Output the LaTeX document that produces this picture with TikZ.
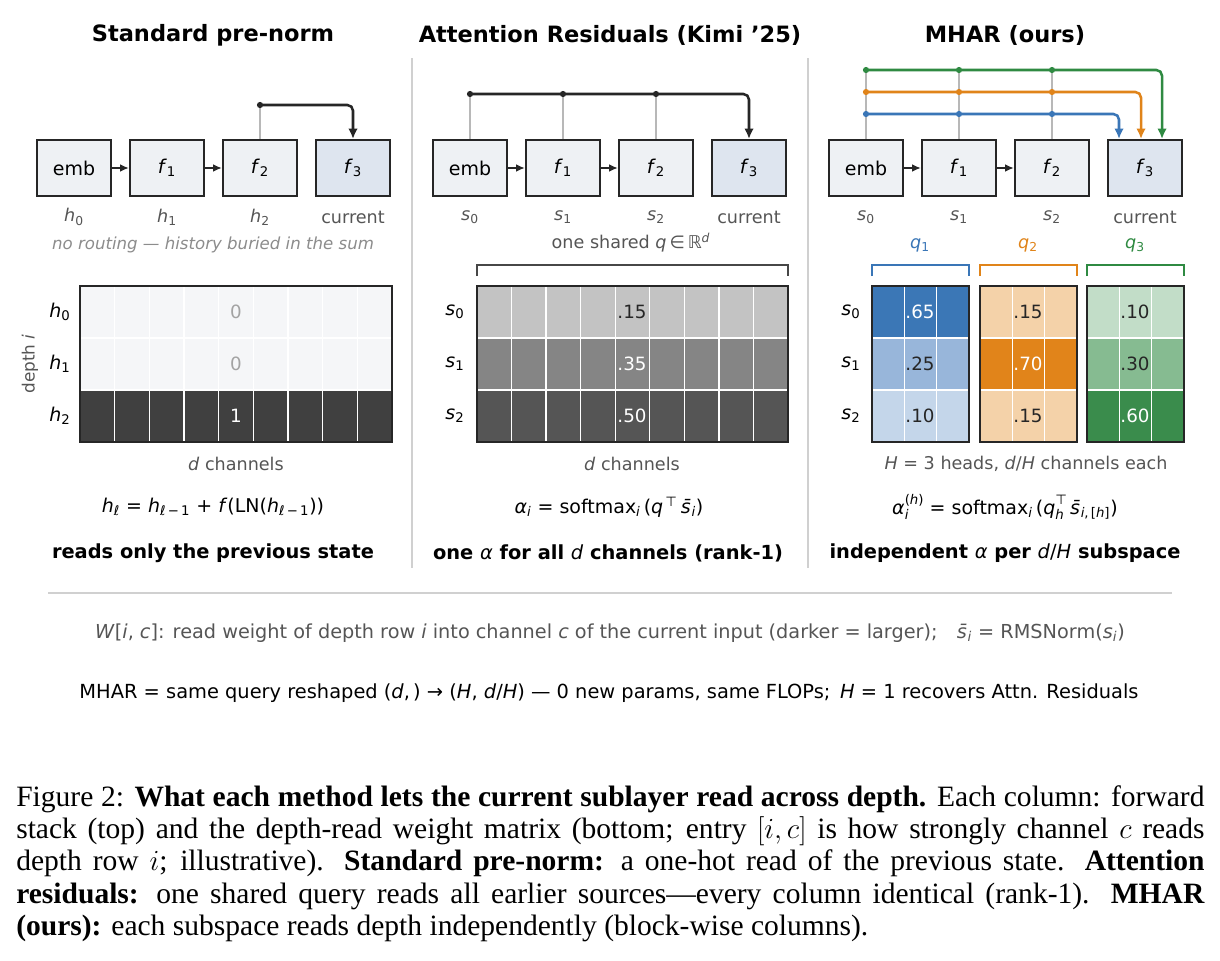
\documentclass[tikz,border=0pt]{standalone}
\usepackage{fontspec}
\setmainfont{DejaVu Sans}
\newfontfamily\capfont{Liberation Serif}
\usetikzlibrary{arrows.meta,positioning}

\definecolor{boxfill}{HTML}{EEF1F4}
\definecolor{curfill}{HTML}{DEE5EF}
\definecolor{ink}{HTML}{262626}
\definecolor{lbl}{HTML}{555555}
\definecolor{faint}{HTML}{8C8C8C}
\definecolor{tapgray}{HTML}{B8B8B8}
\definecolor{rulegray}{HTML}{D0D0D0}
\definecolor{hblue}{HTML}{3A76B7}
\definecolor{horange}{HTML}{E0841A}
\definecolor{hgreen}{HTML}{2F8A42}
\definecolor{pale}{HTML}{F5F6F8}
\definecolor{darkrow}{HTML}{404040}
\definecolor{gA}{HTML}{C3C3C3}
\definecolor{gB}{HTML}{858585}
\definecolor{gC}{HTML}{555555}
\definecolor{hbA}{HTML}{3B77B6}
\definecolor{hbB}{HTML}{98B6DA}
\definecolor{hbC}{HTML}{C4D6EA}
\definecolor{hoA}{HTML}{F4D2A9}
\definecolor{hoB}{HTML}{E1841A}
\definecolor{hgA}{HTML}{C2DDC8}
\definecolor{hgB}{HTML}{86BB91}
\definecolor{hgC}{HTML}{3A8C4C}

% italic symbol with a subscript
\newcommand{\lo}[2]{\textit{#1}\textsubscript{#2}}
\newcommand{\sbar}{\textit{s̄}}
% stacked superscript over subscript
\newcommand{\hilo}[2]{\rlap{\raisebox{-0.55ex}{\fontsize{9.5}{10}\selectfont #2}}\raisebox{0.95ex}{\fontsize{9.5}{10}\selectfont #1}}

\begin{document}
\begin{tikzpicture}[x=0.025cm, y=-0.025cm,
  box/.style={draw=ink, line width=1.5pt, fill=boxfill, minimum width=1.85cm, minimum height=1.4cm, inner sep=0pt, font=\fontsize{13.5}{16}\selectfont},
  cur/.style={box, fill=curfill},
  fwd/.style={draw=ink, line width=1.2pt, -{Latex[length=2.2mm,width=1.9mm]}},
  tap/.style={draw=tapgray, line width=0.9pt},
  route/.style={draw=ink, line width=1.8pt, rounded corners=4pt, -{Latex[length=2.6mm,width=2.4mm]}},
  title/.style={font=\bfseries\fontsize{16}{19}\selectfont},
  sub/.style={text=lbl, font=\fontsize{12.5}{15}\selectfont},
  rowlbl/.style={font=\fontsize{13.5}{16}\selectfont},
  val/.style={font=\fontsize{13}{15}\selectfont},
  formula/.style={font=\fontsize{13.5}{16}\selectfont},
  verdict/.style={font=\bfseries\fontsize{13.8}{16}\selectfont},
  cell/.style={draw=white, line width=0.9pt},
  frame/.style={draw=ink, line width=1.4pt}]

\useasboundingbox[fill=white] (0,0) rectangle (1220,960);

% separators
\draw[rulegray, line width=1pt] (412,58) -- (412,568);
\draw[rulegray, line width=1pt] (808,58) -- (808,568);
\draw[rulegray, line width=1.3pt] (48,593) -- (1172,593);

%%%%% Standard pre-norm
\node[title] (tA) at (213,35) {Standard pre-norm};
\node[box] (embA) at (74,168) {emb};
\node[box] (f1A) at (167,168) {\lo{f}{1}};
\node[box] (f2A) at (260,168) {\lo{f}{2}};
\node[cur] (f3A) at (353,168) {\lo{f}{3}};
\draw[fwd] (embA) -- (f1A);
\draw[fwd] (f1A) -- (f2A);
\coordinate (tapA) at (260,105);
\draw[tap] (f2A.north) -- (tapA);
\draw[route] (tapA) -| (f3A.north);
\fill[ink] (tapA) circle (2.2pt);
\node[sub] (hA0) at (74,217) {\lo{h}{0}};
\node[sub] (hA1) at (167,217) {\lo{h}{1}};
\node[sub] (hA2) at (260,217) {\lo{h}{2}};
\node[sub] (curA) at (353,217) {current};
\node[text=faint, font=\itshape\fontsize{11.8}{14}\selectfont] (noteA) at (213,245) {no routing — history buried in the sum};

\foreach \r/\c in {0/pale,1/pale,2/darkrow}
  \fill[\c] (80,{286+52*\r}) rectangle (392,{338+52*\r});
\foreach \k in {1,...,8}
  \draw[cell] ({80+\k*34.667},286) -- ({80+\k*34.667},442);
\foreach \r in {1,2}
  \draw[cell] (80,{286+52*\r}) -- (392,{286+52*\r});
\draw[frame] (80,286) rectangle (392,442);
\node[val, text=faint!80] (vA0) at (236,312) {0};
\node[val, text=faint!80] (vA1) at (236,364) {0};
\node[val, text=white] (vA2) at (236,416) {1};
\node[rowlbl] (rA0) at (60,312) {\lo{h}{0}};
\node[rowlbl] (rA1) at (60,364) {\lo{h}{1}};
\node[rowlbl] (rA2) at (60,416) {\lo{h}{2}};
\node[sub, rotate=90, font=\fontsize{12}{14}\selectfont] (depA) at (30,364) {depth \textit{i}};
\node[sub] (chA) at (236,464) {\textit{d} channels};
\node[formula] (eqA) at (213,507) {\textit{h}\textsubscript{\textit{ℓ}} = \textit{h}\textsubscript{\textit{ℓ}\,−\,1} + \textit{f}(LN(\textit{h}\textsubscript{\textit{ℓ}\,−\,1}))};
\node[verdict] (vdA) at (213,553) {reads only the previous state};

%%%%% Attention residuals
\node[title] (tB) at (610,35) {Attention Residuals (Kimi ’25)};
\node[box] (embB) at (470,168) {emb};
\node[box] (f1B) at (563,168) {\lo{f}{1}};
\node[box] (f2B) at (656,168) {\lo{f}{2}};
\node[cur] (f3B) at (749,168) {\lo{f}{3}};
\draw[fwd] (embB) -- (f1B);
\draw[fwd] (f1B) -- (f2B);
\coordinate (tB0) at (470,94);
\coordinate (tB1) at (563,94);
\coordinate (tB2) at (656,94);
\draw[tap] (embB.north) -- (tB0);
\draw[tap] (f1B.north) -- (tB1);
\draw[tap] (f2B.north) -- (tB2);
\draw[route] (tB0) -| (f3B.north);
\foreach \t in {tB0,tB1,tB2} \fill[ink] (\t) circle (2.2pt);
\node[sub] (sB0) at (470,217) {\lo{s}{0}};
\node[sub] (sB1) at (563,217) {\lo{s}{1}};
\node[sub] (sB2) at (656,217) {\lo{s}{2}};
\node[sub] (curB) at (749,217) {current};
\node[sub] (qB) at (631,243) {one shared \textit{q}\,∈\,ℝ\textsuperscript{\textit{d}}};
\draw[ink!85, line width=1.5pt] (477,276) -- (477,265) -- (788,265) -- (788,276);

\foreach \r/\c in {0/gA,1/gB,2/gC}
  \fill[\c] (477,{286+52*\r}) rectangle (788,{338+52*\r});
\foreach \k in {1,...,8}
  \draw[cell] ({477+\k*34.556},286) -- ({477+\k*34.556},442);
\foreach \r in {1,2}
  \draw[cell] (477,{286+52*\r}) -- (788,{286+52*\r});
\draw[frame] (477,286) rectangle (788,442);
\node[val, text=ink] (vB0) at (632,312) {.15};
\node[val, text=white] (vB1) at (632,364) {.35};
\node[val, text=white] (vB2) at (632,416) {.50};
\node[rowlbl] (rB0) at (455,312) {\lo{s}{0}};
\node[rowlbl] (rB1) at (455,364) {\lo{s}{1}};
\node[rowlbl] (rB2) at (455,416) {\lo{s}{2}};
\node[sub] (chB) at (632,464) {\textit{d} channels};
\node[formula] (eqB) at (609,507) {\textit{α}\textsubscript{\textit{i}} = softmax\textsubscript{\textit{i}}\,(\textit{q}\textsuperscript{\,⊤}\,\sbar\textsubscript{\textit{i}})};
\node[verdict] (vdB) at (608,553) {one \textmd{\textit{α}} for all \textmd{\textit{d}} channels (rank-1)};

%%%%% MHAR
\node[title] (tC) at (1005,35) {MHAR (ours)};
\node[box] (embC) at (866,168) {emb};
\node[box] (f1C) at (959,168) {\lo{f}{1}};
\node[box] (f2C) at (1052,168) {\lo{f}{2}};
\node[cur] (f3C) at (1145,168) {\lo{f}{3}};
\draw[fwd] (embC) -- (f1C);
\draw[fwd] (f1C) -- (f2C);
\coordinate (gC0) at (866,70);
\coordinate (gC1) at (959,70);
\coordinate (gC2) at (1052,70);
\coordinate (oC0) at (866,92);
\coordinate (oC1) at (959,92);
\coordinate (oC2) at (1052,92);
\coordinate (bC0) at (866,114);
\coordinate (bC1) at (959,114);
\coordinate (bC2) at (1052,114);
\draw[tap] (embC.north) -- (gC0);
\draw[tap] (f1C.north) -- (gC1);
\draw[tap] (f2C.north) -- (gC2);
\draw[route, draw=hgreen] (gC0) -| ([xshift=0.425cm]f3C.north);
\draw[route, draw=horange] (oC0) -| ([xshift=-0.1cm]f3C.north);
\draw[route, draw=hblue] (bC0) -| ([xshift=-0.65cm]f3C.north);
\foreach \t in {gC0,gC1,gC2} \fill[hgreen] (\t) circle (2.2pt);
\foreach \t in {oC0,oC1,oC2} \fill[horange] (\t) circle (2.2pt);
\foreach \t in {bC0,bC1,bC2} \fill[hblue] (\t) circle (2.2pt);
\node[sub] (sC0) at (866,217) {\lo{s}{0}};
\node[sub] (sC1) at (959,217) {\lo{s}{1}};
\node[sub] (sC2) at (1052,217) {\lo{s}{2}};
\node[sub] (curC) at (1145,217) {current};
\node[sub, text=hblue] (q1) at (920,245) {\lo{q}{1}};
\node[sub, text=horange] (q2) at (1028,245) {\lo{q}{2}};
\node[sub, text=hgreen] (q3) at (1135,245) {\lo{q}{3}};

\foreach \x/\c/\a/\b/\d in {872/hblue/hbA/hbB/hbC, 980/horange/hoA/hoB/hoA, 1087/hgreen/hgA/hgB/hgC} {
  \draw[\c, line width=1.5pt] (\x,276) -- (\x,265) -- ({\x+97},265) -- ({\x+97},276);
  \fill[\a] (\x,286) rectangle ({\x+97},338);
  \fill[\b] (\x,338) rectangle ({\x+97},390);
  \fill[\d] (\x,390) rectangle ({\x+97},442);
  \foreach \k in {1,2}
    \draw[cell] ({\x+\k*32.333},286) -- ({\x+\k*32.333},442);
  \foreach \r in {1,2}
    \draw[cell] (\x,{286+52*\r}) -- ({\x+97},{286+52*\r});
  \draw[frame] (\x,286) rectangle ({\x+97},442);
}
\node[val, text=white] (vC00) at (920,312) {.65};
\node[val, text=ink] (vC01) at (920,364) {.25};
\node[val, text=ink] (vC02) at (920,416) {.10};
\node[val, text=ink] (vC10) at (1028,312) {.15};
\node[val, text=white] (vC11) at (1028,364) {.70};
\node[val, text=ink] (vC12) at (1028,416) {.15};
\node[val, text=ink] (vC20) at (1135,312) {.10};
\node[val, text=ink] (vC21) at (1135,364) {.30};
\node[val, text=white] (vC22) at (1135,416) {.60};
\node[rowlbl] (rC0) at (851,312) {\lo{s}{0}};
\node[rowlbl] (rC1) at (851,364) {\lo{s}{1}};
\node[rowlbl] (rC2) at (851,416) {\lo{s}{2}};
\node[sub] (chC) at (1026,464) {\textit{H} = 3 heads, \textit{d}/\textit{H} channels each};
\node[formula] (eqC) at (1005,507) {\textit{α}\hilo{(\textit{h})}{\textit{i}} = softmax\textsubscript{\textit{i}}\,(\textit{q}\hilo{⊤}{\textit{h}}\,\sbar\textsubscript{\textit{i},\,[\textit{h}]})};
\node[verdict] (vdC) at (1005,553) {independent \textmd{\textit{α}} per \textmd{\textit{d}/\textit{H}} subspace};

%%%%% notes
\node[text=lbl, font=\fontsize{13.7}{16}\selectfont] (keyW) at (610,633) {\textit{W}[\textit{i}, \textit{c}]: read weight of depth row \textit{i} into channel \textit{c} of the current input (darker = larger);\quad \sbar\textsubscript{\textit{i}} = RMSNorm(\lo{s}{\textit{i}})};
\node[font=\fontsize{13.8}{16}\selectfont] (keyM) at (609,693) {MHAR = same query reshaped (\textit{d},\,) → (\textit{H}, \textit{d}/\textit{H}) — 0 new params, same FLOPs;\enspace \textit{H} = 1 recovers Attn. Residuals};

%%%%% caption
\node[anchor=base west, inner sep=0pt, text width=29.7cm, align=justify, font=\capfont\fontsize{21}{23.1}\selectfont] (cap) at (16,806) {Figure 2: \textbf{What each method lets the current sublayer read across depth.} Each column: forward\linebreak
stack (top) and the depth-read weight matrix (bottom; entry $[i,c]$ is how strongly channel $c$ reads\linebreak
depth row $i$; illustrative). \textbf{Standard pre-norm:} a one-hot read of the previous state. \textbf{Attention}\linebreak
\textbf{residuals:} one shared query reads all earlier sources—every column identical (rank-1). \textbf{MHAR}\linebreak
\textbf{(ours):} each subspace reads depth independently (block-wise columns).};
\end{tikzpicture}
\end{document}
